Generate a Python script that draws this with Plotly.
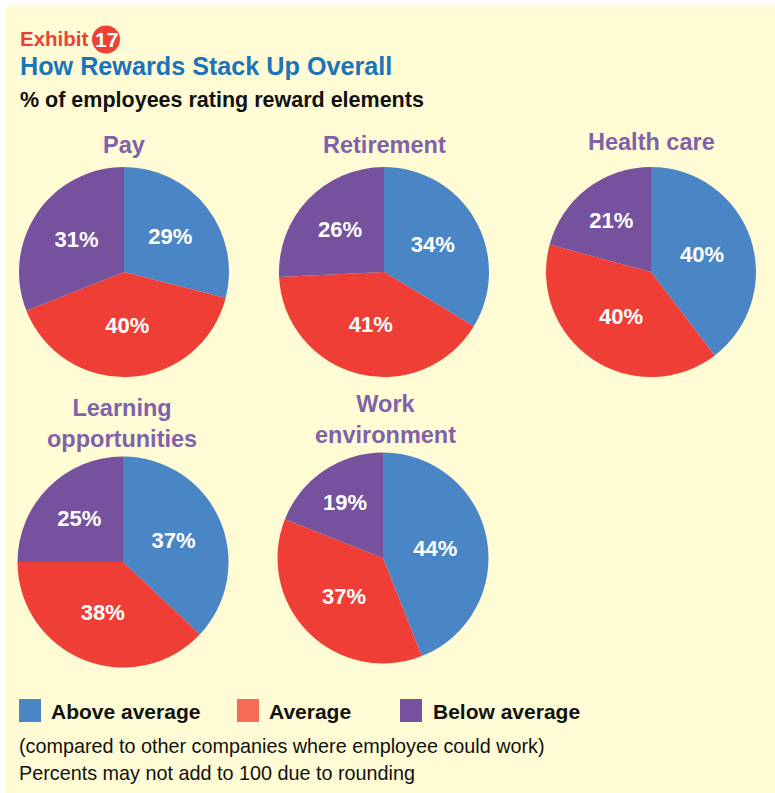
import plotly.graph_objects as go

W, H = 775, 793

categories = ["Above average", "Average", "Below average"]
pie_titles = ["Pay", "Retirement", "Health care", "Learning<br>opportunities", "Work<br>environment"]
pay = [29, 40, 31]
retirement = [34, 41, 26]
health_care = [40, 40, 21]
learning = [37, 38, 25]
work_env = [44, 37, 19]

slice_colors = ["#4A86C6", "#EF3E35", "#76519E"]
legend_colors = ["#4A86C6", "#F46B56", "#76519E"]

BG = "#FFFBD4"
TITLE_PURPLE = "#7F62A9"
FONT = "Liberation Sans, Arial, sans-serif"

def px_x(x):
    return x / W

def px_y(y):
    return 1 - y / H

# pie layout: (center x, center y, radius) in pixels
pie_geom = [(124, 272, 105), (384, 272, 105), (651, 272, 105), (123, 562, 105.5), (383, 558, 105.5)]
series = [pay, retirement, health_care, learning, work_env]
title_pos = [(124, 145), (384, 145), (651, 142), (122, 423), (385, 420)]

fig = go.Figure()
for vals, (cx, cy, r) in zip(series, pie_geom):
    fig.add_trace(go.Pie(
        labels=categories,
        values=vals,
        sort=False,
        direction="clockwise",
        rotation=0,
        marker=dict(colors=slice_colors, line=dict(width=0)),
        texttemplate="%{value}%",
        textposition="inside",
        insidetextorientation="horizontal",
        textfont=dict(family=FONT, size=22, color="white", weight="bold"),
        hoverinfo="label+value",
        showlegend=False,
        domain=dict(x=[px_x(cx - r), px_x(cx + r)], y=[px_y(cy + r), px_y(cy - r)]),
    ))

annotations = []
for t, (tx, ty) in zip(pie_titles, title_pos):
    annotations.append(dict(
        text="<b>%s</b>" % t, x=px_x(tx), y=px_y(ty), xref="paper", yref="paper",
        xanchor="center", yanchor="middle", showarrow=False,
        font=dict(family=FONT, size=23.5, color=TITLE_PURPLE),
    ))

# Header
annotations.append(dict(text="<b>Exhibit</b>", x=px_x(18), y=px_y(38), xref="paper", yref="paper",
                        xanchor="left", yanchor="middle", showarrow=False,
                        font=dict(family=FONT, size=20.5, color="#EC4236")))
annotations.append(dict(text="<b>17</b>", x=px_x(106), y=px_y(39.5), xref="paper", yref="paper",
                        xanchor="center", yanchor="middle", showarrow=False,
                        font=dict(family=FONT, size=21, color="white")))
annotations.append(dict(text="<b>How Rewards Stack Up Overall</b>", x=px_x(18), y=px_y(66), xref="paper", yref="paper",
                        xanchor="left", yanchor="middle", showarrow=False,
                        font=dict(family=FONT, size=25.2, color="#1B73B9")))
annotations.append(dict(text="<b>% of employees rating reward elements</b>", x=px_x(18), y=px_y(100), xref="paper", yref="paper",
                        xanchor="left", yanchor="middle", showarrow=False,
                        font=dict(family=FONT, size=21.5, color="#111111")))

# Legend
legend_x = [(19, 49), (237, 267), (400, 431)]
shapes = [
    dict(type="rect", xref="paper", yref="paper", x0=0, x1=1, y0=0, y1=1, fillcolor="white", line=dict(width=0), layer="below"),
    dict(type="rect", xref="paper", yref="paper", x0=px_x(5), x1=1, y0=0, y1=px_y(5), fillcolor=BG, line=dict(width=0), layer="below"),
    dict(type="circle", xref="paper", yref="paper", x0=px_x(92), x1=px_x(120), y0=px_y(53.5), y1=px_y(25.5),
         fillcolor="#EC4236", line=dict(width=0), layer="below"),
]
for cat, col, (sx, tx) in zip(categories, legend_colors, legend_x):
    shapes.append(dict(type="rect", xref="paper", yref="paper", x0=px_x(sx), x1=px_x(sx + 22),
                       y0=px_y(722), y1=px_y(699), fillcolor=col, line=dict(width=0)))
    annotations.append(dict(text="<b>%s</b>" % cat, x=px_x(tx), y=px_y(711), xref="paper", yref="paper",
                            xanchor="left", yanchor="middle", showarrow=False,
                            font=dict(family=FONT, size=21, color="#111111")))

annotations.append(dict(text="(compared to other companies where employee could work)", x=px_x(17), y=px_y(746),
                        xref="paper", yref="paper", xanchor="left", yanchor="middle", showarrow=False,
                        font=dict(family=FONT, size=19.8, color="#111111")))
annotations.append(dict(text="Percents may not add to 100 due to rounding", x=px_x(17), y=px_y(773),
                        xref="paper", yref="paper", xanchor="left", yanchor="middle", showarrow=False,
                        font=dict(family=FONT, size=19.8, color="#111111")))

fig.update_layout(
    width=W, height=H,
    margin=dict(l=0, r=0, t=0, b=0),
    paper_bgcolor=BG, plot_bgcolor=BG,
    shapes=shapes, annotations=annotations,
    showlegend=False,
)

fig.write_html("out.html", config={"displayModeBar": False},
               post_script="document.body.style.margin='0';document.body.style.overflow='hidden';")
